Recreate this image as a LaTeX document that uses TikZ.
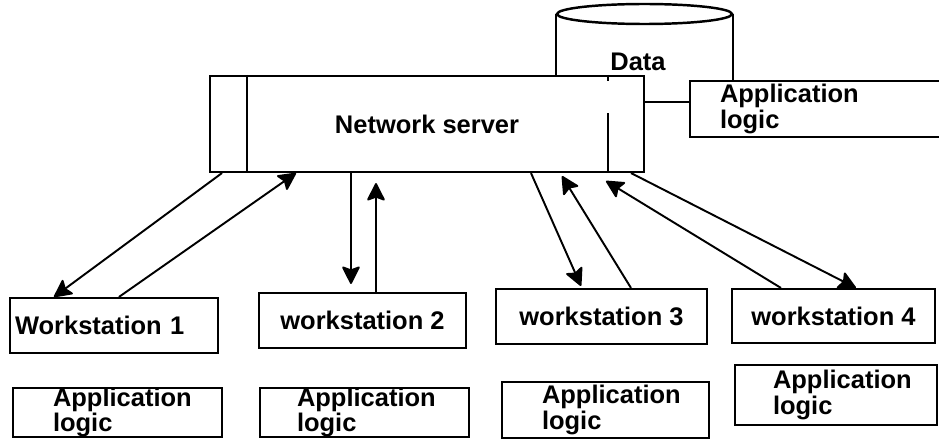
\documentclass[tikz,border=0pt]{standalone}
\usepackage{fontspec}
\setmainfont{Liberation Sans}
\usetikzlibrary{calc,shapes.geometric,arrows.meta}

\begin{document}
\begin{tikzpicture}[x=0.02cm, y=-0.02cm,
        box/.style={draw, line width=1.2pt, inner sep=0pt, font=\fontsize{14.5}{13.5}\selectfont\bfseries},
        logicbox/.style 2 args={box, align=left, inner xsep=#1, text width=#2},
        link/.style={line width=1.1pt, -{Stealth[length=11pt,width=11pt,round,inset=2pt]}}]
            \useasboundingbox (0,0) rectangle (939,439);

            % server and data store
            \node [box, minimum width=8.68cm, minimum height=1.92cm] (server) at (427,124) {Network server};
            \draw [line width=1.2pt] ($(server.north west)+(38,0)$) -- ($(server.south west)+(38,0)$);
            \draw [line width=1.2pt] ($(server.south east)+(-37,-60)$) -- ($(server.south east)+(-37,0)$);
            \draw [line width=1.2pt] ($(server.north east)+(-37,0)$) -- ++(0,6);

            \node [box, logicbox={0.6cm}{4.2cm}, minimum width=5.4cm, minimum height=1.12cm] (apptop) at (825,109) {Application\\logic};
            \node [draw, ellipse, line width=1.4pt, inner sep=0pt, minimum width=3.5cm, minimum height=0.4cm] (dbtop) at (644.5,14) {};
            \node [font=\fontsize{14.5}{13.5}\selectfont\bfseries] (datalabel) at (638,62) {Data};
            \draw [line width=1.2pt] (dbtop.west) -- (dbtop.west |- server.north);
            \draw [line width=1.2pt] (dbtop.east) -- (dbtop.east |- apptop.north);
            \draw [line width=1.2pt] ($(apptop.west)+(0,-7)$) -- ($(apptop.west -| server.east)+(0,-7)$);

            % workstations
            \node [box, logicbox={0.1cm}{3.96cm}, minimum height=1.1cm] (ws1) at (114,325.5) {Workstation 1};
            \node [box, minimum width=4.14cm, minimum height=1.1cm] (ws2) at (362.5,320.5) {workstation 2};
            \node [box, minimum width=4.22cm, minimum height=1.1cm] (ws3) at (601.5,316.5) {workstation 3};
            \node [box, minimum width=4.06cm, minimum height=1.08cm] (ws4) at (833.5,316) {workstation 4};

            \node [logicbox={0.8cm}{2.58cm}, minimum height=0.98cm] (app1) at (117.5,412.5) {Application\\logic};
            \node [logicbox={0.74cm}{2.7cm}, minimum height=0.98cm] (app2) at (364.5,412.5) {Application\\logic};
            \node [logicbox={0.8cm}{2.54cm}, minimum height=1.12cm] (app3) at (605.5,410) {Application\\logic};
            \node [logicbox={0.76cm}{2.52cm}, minimum height=1.2cm] (app4) at (836,395) {Application\\logic};

            % links
            \draw [link] ($(server.south west)+(13,0)$) -- ($(ws1.north west)+(45,0)$);
            \draw [link] ($(ws1.north west)+(110,0)$) -- ($(server.south west)+(87,0)$);
            \draw [link] ($(server.south west)+(142,0)$) -- ($(ws2.north west)+(93,-8)$);
            \draw [link] ($(ws2.north west)+(118,0)$) -- ($(server.south west)+(167,10)$);
            \draw [link] ($(server.south west)+(322,0)$) -- ($(ws3.north west)+(86,-2)$);
            \draw [link] ($(ws3.north west)+(136,0)$) -- ($(server.south west)+(353,3)$);
            \draw [link] ($(ws4.north west)+(50,0)$) -- ($(server.south west)+(397,8)$);
            \draw [link] ($(server.south west)+(422,0)$) -- ($(ws4.north west)+(125,0)$);
        \end{tikzpicture}
\end{document}
